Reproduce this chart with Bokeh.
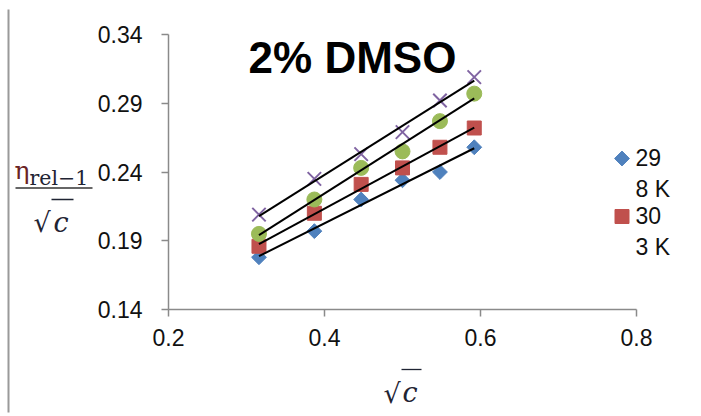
import numpy as np
from bokeh.plotting import figure
from bokeh.models import Range1d, FixedTicker, Label, Arrow, BoxAnnotation
from bokeh.embed import file_html
from bokeh.resources import INLINE

# ---- data ----
sqrt_c = [0.316, 0.387, 0.447, 0.500, 0.548, 0.592]
eta_298 = [0.178, 0.197, 0.220, 0.234, 0.240, 0.258]
eta_303 = [0.186, 0.210, 0.231, 0.243, 0.258, 0.272]
eta_308 = [0.195, 0.220, 0.243, 0.255, 0.277, 0.297]
eta_313 = [0.209, 0.235, 0.253, 0.269, 0.292, 0.309]
x_ticks = [0.2, 0.4, 0.6, 0.8]
y_ticks = [0.14, 0.19, 0.24, 0.29, 0.34]
title_text = "2% DMSO"
legend_lines = [["29", "8 K"], ["30", "3 K"]]

# ---- geometry (canvas pixels) ----
W, H = 701, 416
X0, XPX = 168, 780.0     # canvas x of 0.2, px per unit
Y0, YPX = 309, 1375.0    # canvas y of 0.14, px per unit


def px(X):
    return 0.2 + (X - X0) / XPX


def py(Y):
    return 0.14 + (Y0 - Y) / YPX


p = figure(width=W, height=H, output_backend="svg", toolbar_location=None,
           x_range=Range1d(px(0), px(W)), y_range=Range1d(py(H), py(0)),
           min_border=0)
p.outline_line_color = None
p.grid.visible = False
p.background_fill_color = "white"
p.border_fill_color = "white"

for ax, ticks, bnds, loc in ((p.xaxis[0], x_ticks, (0.2, 0.8), 0.14),
                             (p.yaxis[0], y_ticks, (0.14, 0.34), 0.2)):
    ax.fixed_location = loc
    ax.ticker = FixedTicker(ticks=ticks)
    ax.bounds = bnds
    ax.axis_line_color = "#8a8a8a"
    ax.axis_line_width = 1.5
    ax.major_tick_line_color = "#8a8a8a"
    ax.major_tick_line_width = 1.5
    ax.major_tick_out = 7
    ax.major_tick_in = 0
    ax.minor_tick_line_color = None
    ax.major_label_text_font = "Liberation Sans"
    ax.major_label_text_font_size = "23px"
    ax.major_label_text_color = "#111111"
    ax.major_label_overrides = {t: f"{t:g}" for t in ticks}
p.yaxis[0].major_label_standoff = 19
p.xaxis[0].major_label_standoff = 12

# ---- markers ----
p.scatter(sqrt_c, eta_298, marker="square", angle=np.pi / 4, size=10.5,
          fill_color="#4F81BD", line_color="#4F81BD")
p.scatter(sqrt_c, eta_303, marker="square", size=14,
          fill_color="#C0504D", line_color="#C0504D")
p.scatter(sqrt_c, eta_308, marker="circle", size=15,
          fill_color="#9BBB59", line_color="#9BBB59")
p.scatter(sqrt_c, eta_313, marker="x", size=19, line_color="#8064A2", line_width=2)

# ---- linear trendlines ----
xs = np.array([sqrt_c[0], sqrt_c[-1]])
for ys in (eta_298, eta_303, eta_308, eta_313):
    k, b = np.polyfit(sqrt_c, ys, 1)
    p.line(xs, k * xs + b, line_color="black", line_width=2)

# ---- title ----
p.add_layout(Label(x=px(352), y=py(57), text=title_text, text_align="center",
                   text_baseline="middle", text_font="Liberation Sans",
                   text_font_style="bold", text_font_size="44px", text_color="black"))

# ---- legend (truncated, wrapped) ----
p.scatter([px(621.5)], [py(158)], marker="square", angle=np.pi / 4, size=10.5,
          fill_color="#4F81BD", line_color="#4F81BD")
p.scatter([px(621.5)], [py(216)], marker="square", size=14,
          fill_color="#C0504D", line_color="#C0504D")
for (a, b_), yy in zip(legend_lines, (157, 215)):
    p.add_layout(Label(x=px(635), y=py(yy), text=a, text_align="left", text_baseline="middle",
                       text_font="Liberation Sans", text_font_size="23px", text_color="#111111"))
    p.add_layout(Label(x=px(635), y=py(yy + 31), text=b_, text_align="left", text_baseline="middle",
                       text_font="Liberation Sans", text_font_size="23px", text_color="#111111"))


def clabel(x, y, text, **kw):
    p.add_layout(Label(x=px(x), y=py(y), text=text,
                       text_align="left", text_baseline="alphabetic", **kw))


def cline(x1, y1, x2, y2, **kw):
    p.add_layout(Arrow(x_start=px(x1), y_start=py(y1), x_end=px(x2), y_end=py(y2),
                       end=None, **kw))


def cbox(x1, y1, x2, y2, color):
    p.add_layout(BoxAnnotation(left=px(x1), right=px(x2), top=py(y1), bottom=py(y2),
                               fill_color=color, fill_alpha=1.0, line_color=None))


# ---- y-axis label: fraction ----
lab_col = "#1f2433"
clabel(14, 170, "η", text_font="DejaVu Serif", text_font_size="25px", text_color="#6b2323")
clabel(29, 177, "rel−1", text_font="DejaVu Serif", text_font_size="20.5px", text_color=lab_col)
cline(15, 187.5, 92, 187.5, line_color="#333333", line_width=1.5)
clabel(33, 222, "√", text_font="DejaVu Serif", text_font_size="27px", text_color=lab_col)
clabel(53, 222, "c", text_font="DejaVu Serif", text_font_style="italic",
       text_font_size="27px", text_color=lab_col)
cline(51, 199, 73, 199, line_color=lab_col, line_width=1.3)

# ---- x-axis label ----
clabel(383, 393, "√", text_font="DejaVu Serif", text_font_size="27px", text_color=lab_col)
clabel(402, 392, "c", text_font="DejaVu Serif", text_font_style="italic",
       text_font_size="27px", text_color=lab_col)
cline(401, 369, 421, 369, line_color=lab_col, line_width=1.3)

# ---- page frame line (left) ----
cbox(7, 9, 9, 412, "#9a9a9a")

open("out.html", "w").write(file_html(p, INLINE))
